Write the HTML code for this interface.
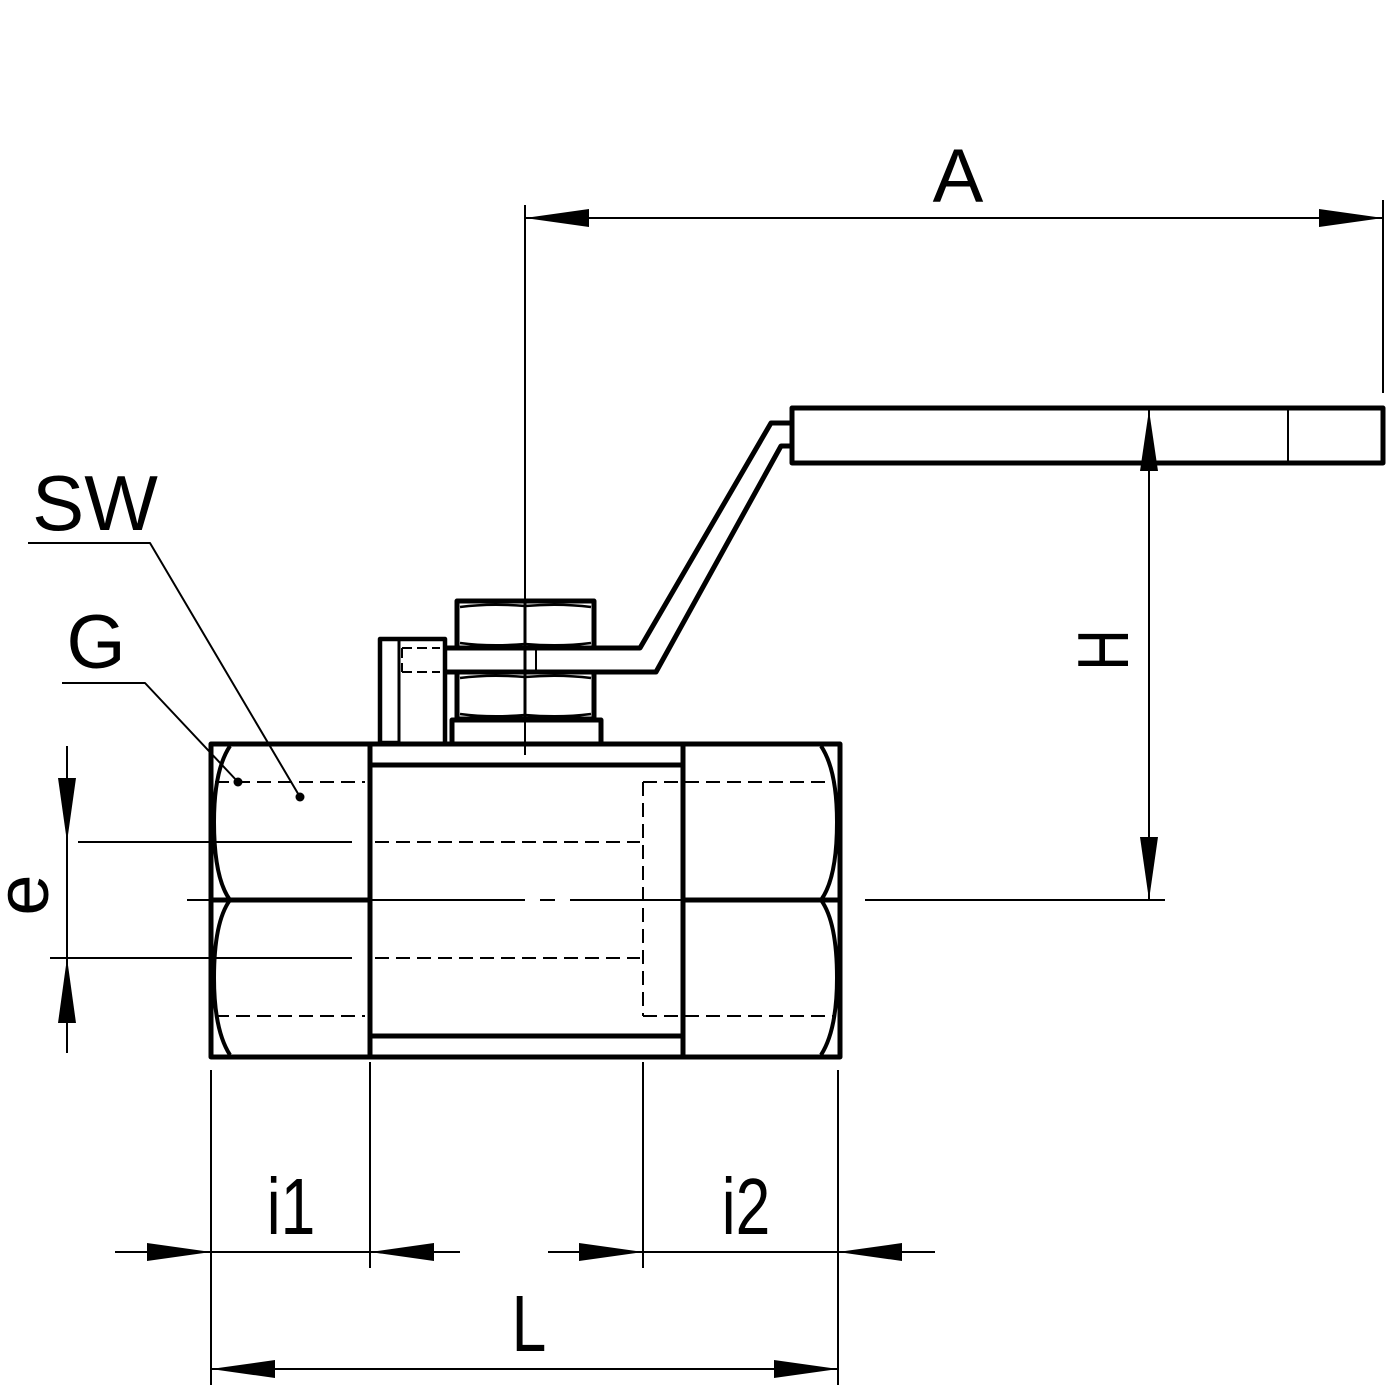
<!DOCTYPE html>
<html><head><meta charset="utf-8"><style>
html,body{margin:0;padding:0;background:#fff;}
svg{display:block;}
text{font-family:"Liberation Sans",sans-serif;fill:#000;}
</style></head><body>
<svg width="1391" height="1391" viewBox="0 0 1391 1391" xmlns="http://www.w3.org/2000/svg">
<g fill="none" stroke="#000" stroke-linejoin="round">
<rect x="211" y="744" width="629" height="313" stroke-width="5"/>
<line x1="370" y1="744" x2="370" y2="1057" stroke-width="5"/>
<line x1="683" y1="744" x2="683" y2="1057" stroke-width="5"/>
<line x1="370" y1="765" x2="683" y2="765" stroke-width="5"/>
<line x1="370" y1="1036" x2="683" y2="1036" stroke-width="5"/>
<line x1="211" y1="900" x2="370" y2="900" stroke-width="5"/>
<line x1="683" y1="900" x2="840" y2="900" stroke-width="5"/>
<path d="M230,746 Q214,770 214,822 Q214,878 230,900 Q214,922 214,978 Q214,1030 230,1055" stroke-width="4"/>
<path d="M821,746 Q837,770 837,822 Q837,878 821,900 Q837,922 837,978 Q837,1030 821,1055" stroke-width="4"/>
<g stroke-width="2" stroke-dasharray="14,7">
<line x1="215" y1="782" x2="365" y2="782"/>
<line x1="215" y1="1016" x2="365" y2="1016"/>
<line x1="643" y1="782" x2="835" y2="782"/>
<line x1="643" y1="1016" x2="835" y2="1016"/>
<line x1="643" y1="782" x2="643" y2="1016"/>
<line x1="375" y1="842" x2="640" y2="842"/>
<line x1="375" y1="958" x2="640" y2="958"/>
</g>
<line x1="78" y1="842" x2="352" y2="842" stroke-width="2"/>
<line x1="50" y1="958" x2="352" y2="958" stroke-width="2"/>
<line x1="187" y1="900" x2="525" y2="900" stroke-width="2"/>
<line x1="540" y1="900" x2="555" y2="900" stroke-width="2"/>
<line x1="570" y1="900" x2="700" y2="900" stroke-width="2"/>
<line x1="865" y1="900" x2="1165" y2="900" stroke-width="2"/>
<path d="M400,743 L380,743 L380,639 L445,639 L445,743" stroke-width="4.5"/>
<line x1="399" y1="640" x2="399" y2="743" stroke-width="3"/>
<g stroke-width="2" stroke-dasharray="10,5">
<line x1="402" y1="648" x2="440" y2="648"/>
<line x1="402" y1="672" x2="440" y2="672"/>
<line x1="402" y1="648" x2="402" y2="672"/>
<line x1="400" y1="743" x2="445" y2="743"/>
</g>
<rect x="457" y="601" width="137" height="47" stroke-width="5"/>
<rect x="457" y="672" width="137" height="47" stroke-width="5"/>
<rect x="452" y="720" width="149" height="24" stroke-width="5"/>
<path d="M460,607 Q490,603 525,606 Q560,603 591,607" stroke-width="2.5"/>
<path d="M460,643 Q490,647 525,644 Q560,647 591,643" stroke-width="2.5"/>
<path d="M460,678 Q490,674 525,677 Q560,674 591,678" stroke-width="2.5"/>
<path d="M460,714 Q490,718 525,715 Q560,718 591,714" stroke-width="2.5"/>
<line x1="525" y1="600" x2="525" y2="720" stroke-width="3"/>
<line x1="536" y1="648" x2="536" y2="672" stroke-width="2"/>
<path d="M445,648 L640,648 L771,423 L792,423" stroke-width="5"/>
<path d="M445,672 L656,672 L781,446 L792,446" stroke-width="5"/>
<rect x="792" y="408" width="591" height="55" stroke-width="5"/>
<line x1="1288" y1="408" x2="1288" y2="463" stroke-width="2"/>
<line x1="525" y1="205" x2="525" y2="755" stroke-width="2"/>
<line x1="1383" y1="200" x2="1383" y2="393" stroke-width="2"/>
<line x1="525" y1="218" x2="1383" y2="218" stroke-width="2"/>
<line x1="1149" y1="410" x2="1149" y2="900" stroke-width="2"/>
<line x1="67" y1="746" x2="67" y2="1053" stroke-width="2"/>
<line x1="211" y1="1070" x2="211" y2="1385" stroke-width="2"/>
<line x1="370" y1="1062" x2="370" y2="1268" stroke-width="2"/>
<line x1="643" y1="1062" x2="643" y2="1268" stroke-width="2"/>
<line x1="838" y1="1070" x2="838" y2="1385" stroke-width="2"/>
<line x1="115" y1="1252" x2="460" y2="1252" stroke-width="2"/>
<line x1="548" y1="1252" x2="935" y2="1252" stroke-width="2"/>
<line x1="211" y1="1369" x2="838" y2="1369" stroke-width="2"/>
<polyline points="28,543 150,543 300,797" stroke-width="2"/>
<polyline points="62,683 145,683 238,782" stroke-width="2"/>
</g>
<g fill="#000">
<circle cx="300" cy="797" r="4.5"/>
<circle cx="238" cy="782" r="4.5"/>
<polygon points="525,218 589,209 589,227"/>
<polygon points="1383,218 1319,209 1319,227"/>
<polygon points="1149,410 1140,471 1158,471"/>
<polygon points="1149,900 1140,837 1158,837"/>
<polygon points="67,842 58,778 76,778"/>
<polygon points="67,958 58,1023 76,1023"/>
<polygon points="211,1252 147,1243 147,1261"/>
<polygon points="370,1252 434,1243 434,1261"/>
<polygon points="643,1252 579,1243 579,1261"/>
<polygon points="838,1252 902,1243 902,1261"/>
<polygon points="211,1369 275,1360 275,1378"/>
<polygon points="838,1369 774,1360 774,1378"/>
</g>
<text x="958" y="202" font-size="76" text-anchor="middle">A</text>
<text x="95" y="530" font-size="78" text-anchor="middle">SW</text>
<text x="96" y="668" font-size="76" text-anchor="middle">G</text>
<text transform="translate(1128,650) rotate(-90) scale(0.8,1)" font-size="72" text-anchor="middle">H</text>
<text transform="translate(48,895) rotate(-90)" font-size="74" text-anchor="middle">e</text>
<text transform="translate(291,1234) scale(0.78,1)" font-size="80" text-anchor="middle">i1</text>
<text transform="translate(746,1234) scale(0.78,1)" font-size="80" text-anchor="middle">i2</text>
<text transform="translate(529,1351) scale(0.78,1)" font-size="80" text-anchor="middle">L</text>
</svg>
</body></html>
